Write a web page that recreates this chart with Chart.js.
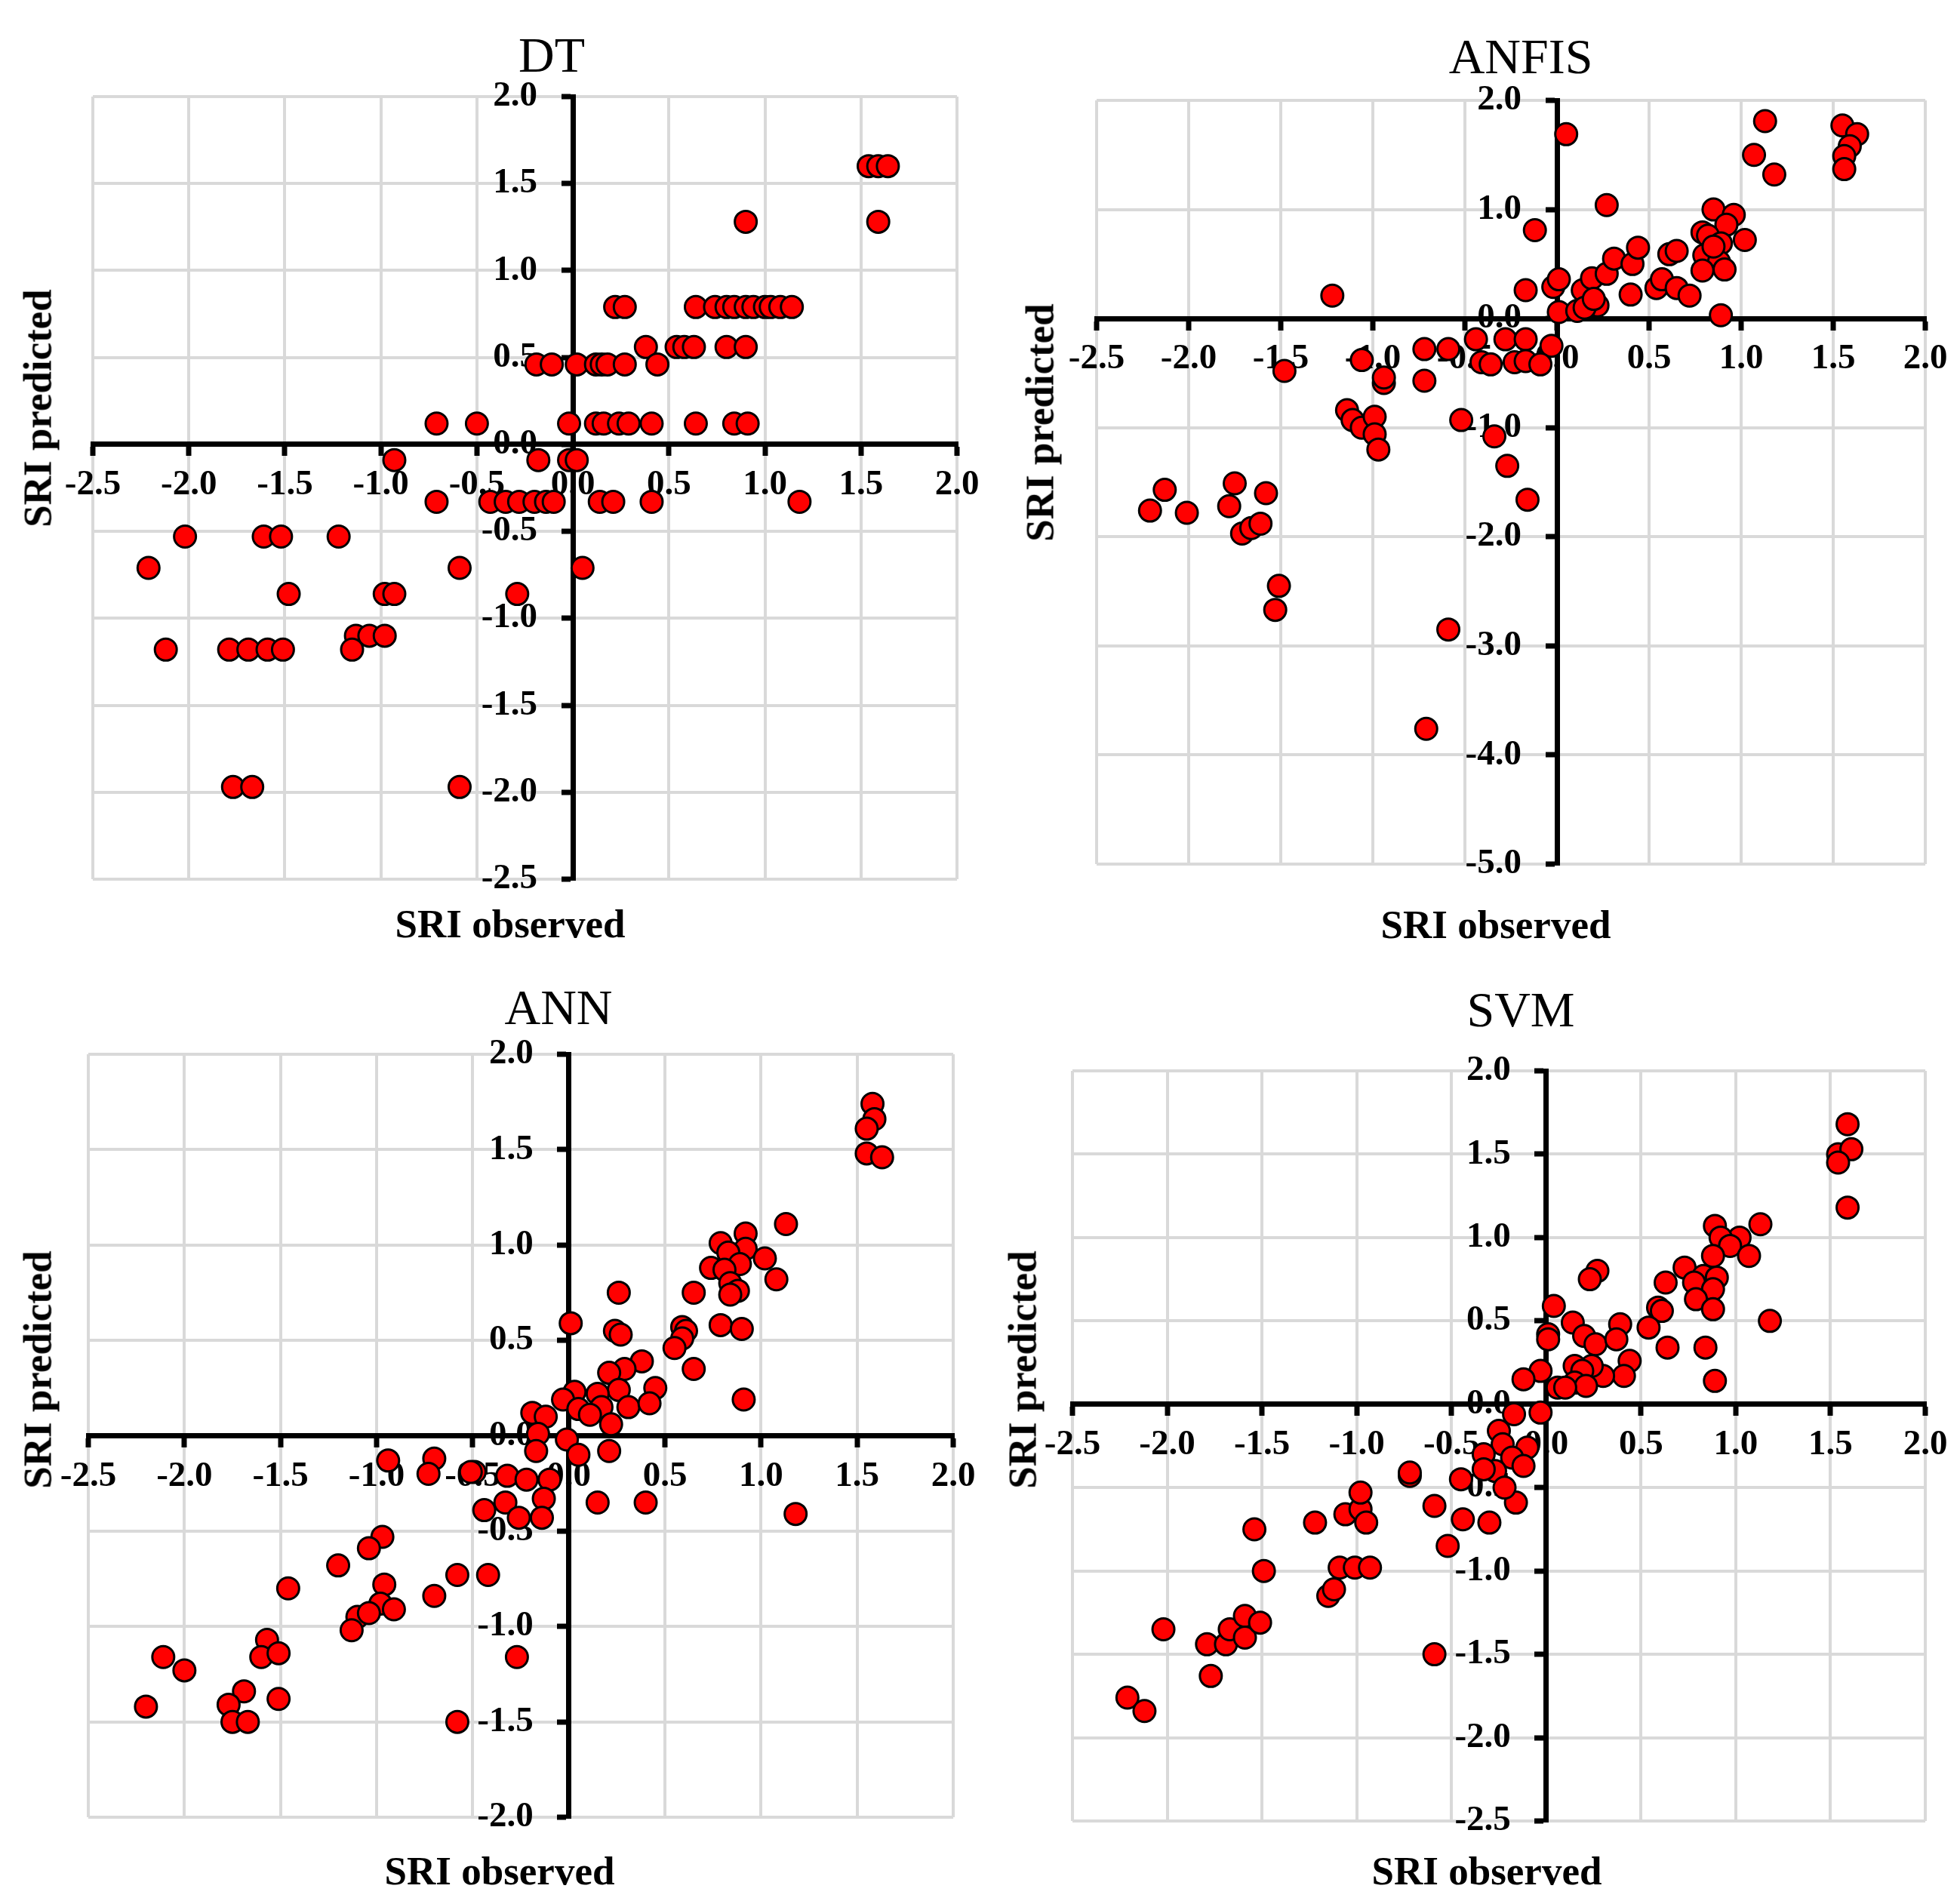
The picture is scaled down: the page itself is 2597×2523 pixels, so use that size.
<!DOCTYPE html>
<html>
<head>
<meta charset="utf-8">
<script src="https://cdn.jsdelivr.net/npm/chart.js@4.4.1/dist/chart.umd.min.js"></script>
<style>
  html, body { margin: 0; padding: 0; background: #fff; overflow: hidden; }
  #page { position: relative; width: 2597px; height: 2523px; }
  canvas { position: absolute; }
  .lbl { position: absolute; font-family: 'Liberation Serif', 'Times New Roman', serif; color: #000;
         white-space: nowrap; line-height: 1; transform: translate(-50%, -50%); }
  .title { font-size: 66px; }
  .axis { font-size: 53px; font-weight: bold; }
  .axis.v { transform: translate(-50%, -50%) rotate(-90deg); }
</style>
</head>
<body>
<div id="page">
  <canvas id="dt"></canvas>
  <canvas id="anfis"></canvas>
  <canvas id="ann"></canvas>
  <canvas id="svm"></canvas>

  <div class="lbl title" style="left:731px; top:73px">DT</div>
  <div class="lbl title" style="left:2015px; top:75px">ANFIS</div>
  <div class="lbl title" style="left:740px; top:1335px">ANN</div>
  <div class="lbl title" style="left:2015px; top:1338px">SVM</div>

  <div class="lbl axis" style="left:676px; top:1224px">SRI observed</div>
  <div class="lbl axis" style="left:1982px; top:1225px">SRI observed</div>
  <div class="lbl axis" style="left:662px; top:2479px">SRI observed</div>
  <div class="lbl axis" style="left:1970px; top:2479px">SRI observed</div>

  <div class="lbl axis v" style="left:50px; top:541px">SRI predicted</div>
  <div class="lbl axis v" style="left:1378px; top:560px">SRI predicted</div>
  <div class="lbl axis v" style="left:50px; top:1815px">SRI predicted</div>
  <div class="lbl axis v" style="left:1355px; top:1815px">SRI predicted</div>
</div>
<script>
// Observed SRI (x) and model-predicted SRI (y)
const dtObserved = [
  1.54, 1.59, 1.64, 1.59, 0.90, 0.22, 0.27, 0.64, 0.74, 0.80,
  0.84, 0.90, 0.94, 1.00, 1.03, 1.08, 1.14, 0.38, 0.54, 0.58,
  0.63, 0.80, 0.90, -0.19, -0.11, 0.02, 0.12, 0.15, 0.18, 0.27,
  0.44, -0.71, -0.50, -0.02, 0.12, 0.16, 0.24, 0.29, 0.41, 0.64,
  0.84, 0.91, -0.93, -0.18, -0.02, 0.02, -0.71, -0.43, -0.35, -0.28,
  -0.20, -0.14, -0.10, 0.14, 0.21, 0.41, 1.18, -2.02, -1.61, -1.52,
  -1.22, -2.21, -0.59, 0.05, -1.48, -0.98, -0.93, -0.29, -1.13, -1.06,
  -0.98, -2.12, -1.79, -1.69, -1.59, -1.51, -1.15, -1.77, -1.67, -0.59
];
const dtPredicted = [
  1.60, 1.60, 1.60, 1.28, 1.28, 0.79, 0.79, 0.79, 0.79, 0.79,
  0.79, 0.79, 0.79, 0.79, 0.79, 0.79, 0.79, 0.56, 0.56, 0.56,
  0.56, 0.56, 0.56, 0.46, 0.46, 0.46, 0.46, 0.46, 0.46, 0.46,
  0.46, 0.12, 0.12, 0.12, 0.12, 0.12, 0.12, 0.12, 0.12, 0.12,
  0.12, 0.12, -0.09, -0.09, -0.09, -0.09, -0.33, -0.33, -0.33, -0.33,
  -0.33, -0.33, -0.33, -0.33, -0.33, -0.33, -0.33, -0.53, -0.53, -0.53,
  -0.53, -0.71, -0.71, -0.71, -0.86, -0.86, -0.86, -0.86, -1.10, -1.10,
  -1.10, -1.18, -1.18, -1.18, -1.18, -1.18, -1.18, -1.97, -1.97, -1.97
];

const anfisObserved = [
  1.55, 1.63, 1.59, 1.56, 1.56, 1.13, 1.07, 1.18, 0.05, 0.27,
  -0.12, -1.22, -0.17, -0.02, 0.01, 0.01, 0.11, 0.16, 0.22, 0.14,
  0.19, 0.27, 0.31, 0.41, 0.44, 0.40, 0.54, 0.57, 0.65, 0.72,
  0.61, 0.65, 0.85, 0.96, 0.92, 0.79, 0.82, 0.89, 1.02, 0.80,
  0.88, 0.79, 0.91, 0.89, 0.15, 0.20, 0.85, -0.44, -0.28, -0.17,
  -0.03, -0.72, -0.59, -0.41, -0.36, -0.23, -0.17, -0.09, -0.94, -0.94,
  -0.72, -1.06, -1.48, -0.52, -0.34, -0.27, -0.16, -0.59, -0.71, -1.14,
  -1.11, -1.06, -0.99, -0.99, -0.97, -2.21, -2.13, -2.01, -1.75, -1.78,
  -1.71, -1.66, -1.61, -1.58, -1.51, -1.53
];
const anfisPredicted = [
  1.77, 1.69, 1.58, 1.49, 1.37, 1.81, 1.50, 1.32, 1.69, 1.04,
  0.81, 0.21, 0.26, 0.29, 0.36, 0.06, 0.07, 0.12, 0.12, 0.26,
  0.37, 0.41, 0.55, 0.50, 0.65, 0.22, 0.28, 0.36, 0.28, 0.21,
  0.59, 0.62, 1.00, 0.95, 0.86, 0.79, 0.76, 0.69, 0.72, 0.58,
  0.52, 0.44, 0.45, 0.03, 0.10, 0.18, 0.66, -0.19, -0.19, -0.19,
  -0.25, -0.28, -0.28, -0.40, -0.42, -0.40, -0.39, -0.42, -0.59, -0.54,
  -0.57, -0.38, -0.48, -0.93, -1.08, -1.35, -1.66, -2.85, -3.76, -0.84,
  -0.93, -1.00, -0.90, -1.06, -1.20, -1.76, -1.57, -1.78, -1.51, -1.72,
  -1.97, -1.92, -1.88, -1.60, -2.45, -2.67
];

const annObserved = [
  1.58, 1.59, 1.55, 1.55, 1.63, 1.13, 1.18, 0.92, 0.92, 0.79,
  0.83, 1.02, 0.89, 0.74, 0.81, 1.08, 0.84, 0.88, 0.84, 0.65,
  0.26, 0.79, 0.90, 0.01, 0.24, 0.27, 0.59, 0.61, 0.59, 0.55,
  0.65, 0.38, 0.29, 0.21, 0.45, 0.26, 0.15, 0.03, -0.03, 0.17,
  0.31, 0.42, 0.05, 0.11, 0.22, -0.19, -0.12, -0.16, 0.91, -0.17,
  -0.01, 0.05, 0.21, 0.15, 0.40, -0.49, -0.32, -0.22, -0.10, -0.13,
  -0.44, -0.33, -0.26, -0.14, -0.94, -0.70, -0.73, -0.51, -0.97, -1.04,
  -1.20, -0.58, -0.42, -1.46, -0.96, -0.70, -0.98, -0.91, -1.10, -1.04,
  -1.13, -0.27, -1.57, -1.60, -1.51, -2.11, -2.00, -2.20, -1.69, -1.77,
  -1.75, -1.67, -1.51, -0.58
];
const annPredicted = [
  1.74, 1.66, 1.61, 1.48, 1.46, 1.11, -0.41, 1.06, 0.98, 1.01,
  0.96, 0.93, 0.90, 0.88, 0.87, 0.82, 0.80, 0.76, 0.74, 0.75,
  0.75, 0.58, 0.56, 0.59, 0.55, 0.53, 0.57, 0.55, 0.51, 0.46,
  0.35, 0.39, 0.35, 0.33, 0.25, 0.24, 0.22, 0.23, 0.19, 0.15,
  0.15, 0.17, 0.14, 0.11, 0.06, 0.12, 0.10, 0.01, 0.19, -0.08,
  -0.02, -0.10, -0.08, -0.35, -0.35, -0.19, -0.21, -0.23, -0.23, -0.33,
  -0.39, -0.35, -0.43, -0.43, -0.13, -0.12, -0.20, -0.19, -0.53, -0.59,
  -0.68, -0.73, -0.73, -0.80, -0.78, -0.84, -0.88, -0.91, -0.95, -0.93,
  -1.02, -1.16, -1.07, -1.16, -1.14, -1.16, -1.23, -1.42, -1.34, -1.41,
  -1.50, -1.50, -1.38, -1.50
];

const svmObserved = [
  1.59, 1.54, 1.61, 1.54, 1.59, 1.13, 1.18, 0.89, 1.02, 0.92,
  0.97, 1.07, 0.88, 0.73, 0.83, 0.90, 0.78, 0.88, 0.79, 0.88,
  0.63, 0.59, 0.61, 0.54, 0.64, 0.84, 0.89, 0.27, 0.23, 0.04,
  0.01, 0.01, 0.14, 0.20, 0.26, 0.39, 0.37, 0.44, 0.41, 0.30,
  0.24, 0.15, 0.19, 0.15, 0.21, 0.06, 0.10, -0.03, -0.12, -0.03,
  -0.17, -0.25, -0.23, -0.10, -0.33, -0.18, -0.12, -0.27, -0.33, -0.72,
  -0.72, -0.45, -0.16, -0.59, -0.44, -0.30, -0.52, -0.22, -2.02, -2.21,
  -2.12, -1.77, -1.79, -1.69, -1.67, -1.59, -1.59, -1.51, -1.49, -1.54,
  -1.22, -1.15, -1.12, -1.09, -1.01, -0.93, -1.06, -0.98, -0.98, -0.95,
  -0.59
];
const svmPredicted = [
  1.68, 1.50, 1.53, 1.45, 1.18, 1.08, 0.50, 1.07, 1.00, 1.00,
  0.95, 0.89, 0.89, 0.82, 0.77, 0.76, 0.73, 0.69, 0.63, 0.57,
  0.73, 0.58, 0.56, 0.46, 0.34, 0.34, 0.14, 0.80, 0.75, 0.59,
  0.42, 0.39, 0.49, 0.41, 0.36, 0.48, 0.39, 0.26, 0.17, 0.17,
  0.23, 0.23, 0.20, 0.13, 0.11, 0.10, 0.10, 0.20, 0.15, -0.05,
  -0.06, -0.16, -0.24, -0.26, -0.30, -0.32, -0.37, -0.40, -0.39, -0.43,
  -0.41, -0.45, -0.59, -0.61, -0.69, -0.71, -0.85, -0.50, -1.35, -1.76,
  -1.84, -1.63, -1.44, -1.44, -1.35, -1.27, -1.40, -1.31, -1.00, -0.75,
  -0.71, -1.15, -1.11, -0.98, -0.98, -0.98, -0.66, -0.63, -0.53, -0.71,
  -1.50
];

// axis ranges: min, max, step
const xRange = [-2.5, 2.0, 0.5];
const dtYRange = [-2.5, 2.0, 0.5];
const anfisYRange = [-5.0, 2.0, 1.0];
const annYRange = [-2.0, 2.0, 0.5];
const svmYRange = [-2.5, 2.0, 0.5];

// plot area of each panel on the page
const PAGE_W = 2597;
const plotAreas = {
    dt:    { left: 123,  top: 128,  right: 1268, bottom: 1165 },
    anfis: { left: 1453, top: 133,  right: 2551, bottom: 1145 },
    ann:   { left: 117,  top: 1397, right: 1263, bottom: 2408 },
    svm:   { left: 1421, top: 1419, right: 2551, bottom: 2413 }
};

const tickFont = { family: "'Liberation Serif', 'Times New Roman', serif", size: 47, weight: 'bold' };

function axisOptions(range, pos, isY) {
    return {
        type: 'linear',
        min: range[0],
        max: range[1],
        position: pos,
        ticks: {
            stepSize: range[2],
            color: '#000',
            font: tickFont,
            padding: 14,
            // y labels sit right on the axis when it is placed by value, so pad them with spaces
            callback: v => isY ? v.toFixed(1) + '    ' : v.toFixed(1)
        },
        grid: { color: '#d9d9d9', lineWidth: 4, tickColor: '#000', tickWidth: 7, tickLength: 12 },
        border: { color: '#000', width: 7 }
    };
}

function makeChart(id, yRange, observed, predicted) {
    const area = plotAreas[id];
    const pad = { left: 90, top: 90, right: Math.min(90, PAGE_W - area.right), bottom: 90 };
    const canvas = document.getElementById(id);
    canvas.width = area.right - area.left + pad.left + pad.right;
    canvas.height = area.bottom - area.top + pad.top + pad.bottom;
    canvas.style.left = (area.left - pad.left) + 'px';
    canvas.style.top = (area.top - pad.top) + 'px';

    new Chart(canvas, {
        type: 'scatter',
        data: {
            datasets: [{
                data: observed.map((x, i) => ({ x: x, y: predicted[i] })),
                backgroundColor: '#ff0000',
                borderColor: '#000',
                borderWidth: 3,
                pointRadius: 14.5,
                pointHoverRadius: 14.5
            }]
        },
        options: {
            responsive: false,
            animation: false,
            events: [],
            layout: { padding: pad },
            plugins: { legend: { display: false }, tooltip: { enabled: false } },
            scales: {
                x: axisOptions(xRange, { y: 0 }, false),
                y: axisOptions(yRange, { x: 0 }, true)
            }
        }
    });
}

makeChart('dt', dtYRange, dtObserved, dtPredicted);
makeChart('anfis', anfisYRange, anfisObserved, anfisPredicted);
makeChart('ann', annYRange, annObserved, annPredicted);
makeChart('svm', svmYRange, svmObserved, svmPredicted);
</script>
</body>
</html>
